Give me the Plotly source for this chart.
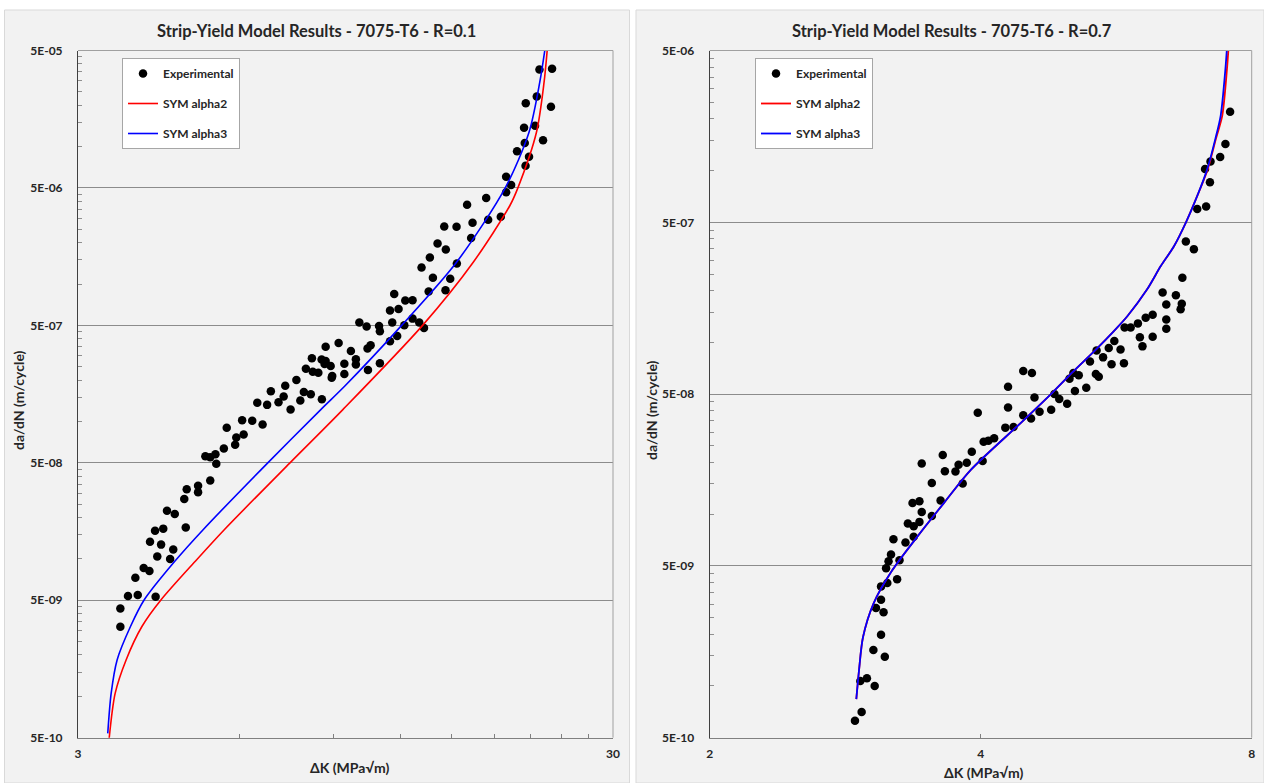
import math
import plotly.graph_objects as go

# ---------------- data: R = 0.1 ----------------
exp_r01_dk = [3.60, 3.60, 3.72, 3.88, 4.19, 3.84, 3.98, 4.08, 4.22, 4.46,
              4.52, 4.29, 4.09, 4.18, 4.33, 4.77, 4.40, 4.55, 4.74, 4.79,
              5.03, 5.03, 5.30, 5.19, 5.30, 5.42, 5.44, 5.62, 5.69, 5.90,
              5.93, 6.12, 6.08, 6.35, 6.64, 6.49, 6.77, 6.88, 7.11, 7.27,
              7.32, 7.49, 7.68, 7.81, 7.93, 8.17, 8.00, 8.21, 8.24, 8.44,
              8.56, 8.71, 8.67, 8.90, 8.96, 8.94, 8.57, 8.71, 9.21, 9.44,
              9.44, 9.71, 9.92, 9.92, 10.43, 10.57, 10.45, 10.07, 10.39, 10.96,
              11.00, 11.00, 11.49, 11.60, 11.49, 11.70, 11.92, 11.85, 12.22, 12.27,
              12.66, 12.66, 13.03, 13.30, 13.57, 13.16, 13.64, 13.82, 14.10, 14.51,
              14.61, 14.59, 14.89, 15.30, 15.32, 16.01, 16.29, 16.39, 17.38, 17.53,
              18.51, 18.94, 18.94, 19.35, 19.85, 20.52, 20.59, 20.90, 20.46, 21.45,
              22.20, 20.61, 21.61, 21.86, 23.08, 22.97]
exp_r01_dadn = [3.21e-9, 4.36e-9, 5.36e-9, 5.46e-9, 5.30e-9, 7.29e-9, 8.57e-9, 8.17e-9, 1.04e-8, 9.98e-9,
                1.17e-8, 1.27e-8, 1.33e-8, 1.60e-8, 1.66e-8, 1.69e-8, 2.24e-8, 2.12e-8, 2.73e-8, 3.21e-8,
                3.05e-8, 3.41e-8, 3.72e-8, 5.58e-8, 5.50e-8, 5.78e-8, 4.92e-8, 6.35e-8, 8.99e-8, 6.76e-8,
                7.64e-8, 8.04e-8, 1.02e-7, 1.01e-7, 9.51e-8, 1.37e-7, 1.32e-7, 1.66e-7, 1.38e-7, 1.52e-7,
                1.82e-7, 1.22e-7, 2.00e-7, 1.42e-7, 1.64e-7, 1.58e-7, 2.42e-7, 2.88e-7, 2.30e-7, 2.26e-7,
                2.82e-7, 2.75e-7, 2.62e-7, 2.53e-7, 2.14e-7, 2.08e-7, 1.45e-7, 3.50e-7, 3.72e-7, 2.63e-7,
                2.21e-7, 3.25e-7, 2.83e-7, 2.60e-7, 3.39e-7, 3.58e-7, 2.37e-7, 5.24e-7, 4.90e-7, 4.95e-7,
                4.53e-7, 2.65e-7, 3.83e-7, 5.24e-7, 6.41e-7, 8.47e-7, 6.58e-7, 4.19e-7, 5.01e-7, 7.59e-7,
                7.62e-7, 5.60e-7, 5.24e-7, 4.79e-7, 8.81e-7, 1.32e-6, 1.56e-6, 1.11e-6, 1.97e-6, 2.62e-6,
                1.78e-6, 9.02e-7, 1.09e-6, 2.61e-6, 1.41e-6, 3.77e-6, 2.16e-6, 2.79e-6, 4.22e-6, 2.93e-6,
                3.08e-6, 6.04e-6, 4.65e-6, 5.25e-6, 9.25e-6, 1.06e-5, 7.26e-6, 8.43e-6, 1.37e-5, 1.42e-5,
                1.11e-5, 2.07e-5, 2.31e-5, 3.64e-5, 3.68e-5, 1.95e-5]

sym2_r01_dk = [3.43, 3.52, 3.69, 3.95, 4.29, 5.00, 5.63, 7.47, 9.38, 13.22, 16.44, 19.24, 19.94, 21.58, 22.30, 22.62]
sym2_r01_dadn = [4.9e-10, 1.05e-9, 1.84e-9, 3.22e-9, 5.04e-9, 9.86e-9, 1.63e-8, 5.00e-8, 1.22e-7, 5.00e-7,
                 1.44e-6, 3.71e-6, 5.05e-6, 1.27e-5, 2.94e-5, 5.2e-5]

sym3_r01_dk = [3.41, 3.46, 3.55, 3.76, 3.99, 4.55, 5.14, 6.79, 8.53, 9.46, 12.08, 15.30, 18.89, 20.90, 21.89, 22.40]
sym3_r01_dadn = [5.38e-10, 1.05e-9, 1.84e-9, 3.22e-9, 5.04e-9, 9.6e-9, 1.63e-8, 5.00e-8, 1.22e-7, 1.81e-7,
                 5.00e-7, 1.44e-6, 5.05e-6, 1.27e-5, 2.94e-5, 5.2e-5]

# ---------------- data: R = 0.7 ----------------
exp_r07_dk = [2.90, 2.95, 2.94, 2.99, 3.05, 3.04, 3.13, 3.10, 3.12, 3.06,
              3.10, 3.10, 3.15, 3.23, 3.14, 3.16, 3.18, 3.25, 3.20, 3.30,
              3.37, 3.32, 3.37, 3.42, 3.44, 3.36, 3.42, 3.53, 3.61, 3.53,
              3.44, 3.63, 3.65, 3.75, 3.78, 3.82, 3.86, 3.91, 4.02, 4.03,
              4.08, 4.14, 3.97, 4.26, 4.29, 4.29, 4.35, 4.46, 4.56, 4.59,
              4.46, 4.55, 4.65, 4.79, 4.83, 4.89, 4.99, 5.02, 5.07, 5.14,
              5.09, 5.24, 5.29, 5.37, 5.41, 5.38, 5.47, 5.55, 5.59, 5.63,
              5.72, 5.77, 5.78, 5.87, 5.98, 6.01, 6.05, 6.10, 6.21, 6.21,
              6.37, 6.43, 6.43, 6.43, 6.59, 6.69, 6.67, 6.70, 6.76, 6.90,
              6.96, 7.12, 7.19, 7.10, 7.20, 7.38, 7.48, 7.57]
exp_r07_dadn = [6.27e-10, 7.05e-10, 1.07e-9, 1.11e-9, 1.00e-9, 1.62e-9, 1.48e-9, 1.99e-9, 2.69e-9, 2.84e-9,
                3.18e-9, 3.80e-9, 3.97e-9, 4.18e-9, 4.84e-9, 5.32e-9, 5.82e-9, 5.40e-9, 7.15e-9, 6.84e-9,
                7.38e-9, 8.83e-9, 8.51e-9, 9.02e-9, 1.03e-8, 1.16e-8, 1.19e-8, 9.77e-9, 1.20e-8, 1.52e-8,
                1.97e-8, 2.21e-8, 1.78e-8, 1.77e-8, 1.94e-8, 1.51e-8, 1.99e-8, 2.31e-8, 2.04e-8, 2.64e-8,
                2.68e-8, 2.77e-8, 3.89e-8, 3.19e-8, 4.18e-8, 5.52e-8, 3.22e-8, 6.81e-8, 6.64e-8, 4.78e-8,
                3.77e-8, 3.60e-8, 3.95e-8, 4.05e-8, 5.00e-8, 4.68e-8, 4.39e-8, 6.14e-8, 6.64e-8, 6.43e-8,
                5.22e-8, 5.45e-8, 7.74e-8, 6.55e-8, 6.31e-8, 8.97e-8, 8.18e-8, 9.27e-8, 7.45e-8, 1.02e-7,
                9.08e-8, 7.55e-8, 1.22e-7, 1.22e-7, 1.29e-7, 1.07e-7, 9.48e-8, 1.39e-7, 1.08e-7, 1.45e-7,
                1.95e-7, 1.66e-7, 1.36e-7, 1.20e-7, 1.88e-7, 1.68e-7, 1.56e-7, 2.38e-7, 3.87e-7, 3.49e-7,
                5.98e-7, 6.18e-7, 8.55e-7, 1.02e-6, 1.13e-6, 1.20e-6, 1.43e-6, 2.20e-6]

sym2_r07_dk = [2.91, 2.93, 2.96, 3.04, 3.19, 3.40, 3.64, 3.90, 4.43, 4.80, 5.07, 5.37, 5.62, 5.82,
               6.12, 6.34, 6.56, 6.76, 6.96, 7.15, 7.30, 7.42, 7.51, 7.54]
sym2_r07_dadn = [8.39e-10, 1.23e-9, 1.92e-9, 3.01e-9, 4.71e-9, 7.38e-9, 1.16e-8, 1.81e-8, 3.39e-8, 5.07e-8,
                 6.78e-8, 9.08e-8, 1.16e-7, 1.42e-7, 2.03e-7, 2.78e-7, 3.64e-7, 4.98e-7, 7.12e-7, 1.02e-6,
                 1.53e-6, 2.09e-6, 3.91e-6, 5.2e-6]

sym3_r07_dk = [2.91, 2.93, 2.96, 3.04, 3.19, 3.40, 3.64, 3.90, 4.43, 4.80, 5.07, 5.37, 5.62, 5.82,
               6.12, 6.34, 6.56, 6.76, 6.96, 7.14, 7.29, 7.39, 7.48, 7.51]
sym3_r07_dadn = [8.39e-10, 1.23e-9, 1.92e-9, 3.01e-9, 4.71e-9, 7.38e-9, 1.16e-8, 1.81e-8, 3.39e-8, 5.07e-8,
                 6.78e-8, 9.08e-8, 1.16e-7, 1.42e-7, 2.03e-7, 2.78e-7, 3.64e-7, 4.98e-7, 7.12e-7, 1.02e-6,
                 1.53e-6, 2.09e-6, 3.91e-6, 5.2e-6]

titles = ["Strip-Yield Model Results - 7075-T6 - R=0.1", "Strip-Yield Model Results - 7075-T6 - R=0.7"]
x_title = "ΔK (MPa√m)"
y_title = "da/dN (m/cycle)"
series_names = ["Experimental", "SYM alpha2", "SYM alpha3"]
y_ticks_r01 = [5e-10, 5e-9, 5e-8, 5e-7, 5e-6, 5e-5]
y_ticks_r07 = [5e-10, 5e-9, 5e-8, 5e-7, 5e-6]
x_ticks_r01 = [3, 30]
x_ticks_r07 = [2, 4, 8]

# ---------------- figure ----------------
W, H = 1264, 783
FONT = "Lato, 'Open Sans', sans-serif"
TXT = "#262626"

def fx(p):
    return p / W

def fy(p):
    return 1 - p / H

fig = go.Figure()

def add_panel(xa, ya, leg, dk, dadn, d2, v2, d3, v3, lw):
    fig.add_trace(go.Scatter(x=dk, y=dadn, mode="markers", name=series_names[0],
                             marker=dict(color="black", size=8.5, symbol="circle"),
                             xaxis=xa, yaxis=ya, legend=leg, legendgroup=leg + "a"))
    fig.add_trace(go.Scatter(x=d2, y=v2, mode="lines", name=series_names[1],
                             line=dict(color="#FF0000", width=lw, shape="spline", smoothing=0.8),
                             xaxis=xa, yaxis=ya, legend=leg, legendgroup=leg + "b"))
    fig.add_trace(go.Scatter(x=d3, y=v3, mode="lines", name=series_names[2],
                             line=dict(color="#0000FF", width=lw, shape="spline", smoothing=0.8),
                             xaxis=xa, yaxis=ya, legend=leg, legendgroup=leg + "c"))

add_panel("x", "y", "legend", exp_r01_dk, exp_r01_dadn, sym2_r01_dk, sym2_r01_dadn,
          sym3_r01_dk, sym3_r01_dadn, 1.6)
add_panel("x2", "y2", "legend2", exp_r07_dk, exp_r07_dadn, sym2_r07_dk, sym2_r07_dadn,
          sym3_r07_dk, sym3_r07_dadn, 1.8)

def fmt(v):
    return "%.0E" % v

tickfont = dict(family=FONT, size=12, color=TXT, weight="bold")

def minor_vals(majors):
    out = []
    for m in majors[:-1]:
        out += [m * k for k in range(2, 10)]
    return out

xaxis_common = dict(type="log", showgrid=False, zeroline=False, showline=True,
                    linecolor="#808080", linewidth=1, tickfont=tickfont,
                    ticklabelstandoff=5, automargin=False)
yaxis_common = dict(type="log", showgrid=True, gridcolor="#8C8C8C", gridwidth=1,
                    zeroline=False, showline=True, linecolor="#404040", linewidth=1,
                    ticks="", tickfont=tickfont, ticklabelstandoff=12, automargin=False)

fig.update_layout(
    width=W, height=H,
    margin=dict(l=0, r=0, t=0, b=0, pad=0, autoexpand=False),
    paper_bgcolor="white", plot_bgcolor="#F2F2F2",
    showlegend=True,
    xaxis=dict(xaxis_common, domain=[fx(78), fx(613)], anchor="y",
               range=[math.log10(3), math.log10(30)],
               tickmode="array", tickvals=x_ticks_r01, ticktext=[str(v) for v in x_ticks_r01],
               ticks="",
               minor=dict(tickvals=[3 * k for k in range(2, 10)], ticks="inside", ticklen=4,
                          tickcolor="#808080", showgrid=False)),
    yaxis=dict(yaxis_common, domain=[fy(737.7), fy(50.5)], anchor="x",
               range=[math.log10(5e-10), math.log10(5e-5)],
               tickmode="array", tickvals=y_ticks_r01, ticktext=[fmt(v) for v in y_ticks_r01],
               minor=dict(tickvals=minor_vals(y_ticks_r01), ticks="inside", ticklen=4,
                          tickcolor="#909090", showgrid=False)),
    xaxis2=dict(xaxis_common, domain=[fx(709.7), fx(1251.7)], anchor="y2",
                range=[math.log10(2), math.log10(8)],
                tickmode="array", tickvals=x_ticks_r07, ticktext=["2", "4", "8"],
                ticks="inside", ticklen=4, tickcolor="#808080"),
    yaxis2=dict(yaxis_common, domain=[fy(737.7), fy(50.5)], anchor="x2",
                range=[math.log10(5e-10), math.log10(5e-6)],
                tickmode="array", tickvals=y_ticks_r07, ticktext=[fmt(v) for v in y_ticks_r07],
                minor=dict(tickvals=minor_vals(y_ticks_r07), ticks="inside", ticklen=4,
                           tickcolor="#909090", showgrid=False)),
    legend=dict(x=fx(122), y=fy(58), xanchor="left", yanchor="top",
                bgcolor="white", bordercolor="#A6A6A6", borderwidth=1,
                font=dict(family=FONT, size=12, color=TXT, weight="bold"),
                tracegroupgap=11, traceorder="grouped", itemwidth=30),
    legend2=dict(x=fx(755), y=fy(58), xanchor="left", yanchor="top",
                 bgcolor="white", bordercolor="#A6A6A6", borderwidth=1,
                 font=dict(family=FONT, size=12, color=TXT, weight="bold"),
                 tracegroupgap=11, traceorder="grouped", itemwidth=30),
)

# panel backgrounds
shapes = [
    dict(type="rect", xref="paper", yref="paper", x0=fx(4.5), x1=fx(629.5), y0=0, y1=fy(10),
         fillcolor="#F2F2F2", line=dict(color="#D9D9D9", width=1), layer="below"),
    dict(type="rect", xref="paper", yref="paper", x0=fx(636), x1=1, y0=0, y1=fy(10),
         fillcolor="#F2F2F2", line=dict(color="#D9D9D9", width=1), layer="below"),
]
# top and right plot-area borders
for xr, yr in (("x", "y"), ("x2", "y2")):
    shapes.append(dict(type="line", xref=xr + " domain", yref=yr + " domain", x0=0, x1=1, y0=1, y1=1,
                       line=dict(color="#A0A0A0", width=1), layer="above"))
    shapes.append(dict(type="line", xref=xr + " domain", yref=yr + " domain", x0=1, x1=1, y0=0, y1=1,
                       line=dict(color="#A0A0A0", width=1), layer="above"))
fig.update_layout(shapes=shapes)

ann = []
title_font = dict(family=FONT, size=16.5, color=TXT, weight="bold")
axis_font = dict(family=FONT, size=14, color=TXT, weight="bold")
ann.append(dict(text=titles[0], x=fx(316), y=fy(31), xref="paper", yref="paper",
                xanchor="center", yanchor="middle", showarrow=False, font=title_font))
ann.append(dict(text=titles[1], x=fx(952), y=fy(31), xref="paper", yref="paper",
                xanchor="center", yanchor="middle", showarrow=False, font=title_font))
ann.append(dict(text=x_title, x=fx(350), y=fy(767), xref="paper", yref="paper",
                xanchor="center", yanchor="middle", showarrow=False, font=axis_font))
ann.append(dict(text=x_title, x=fx(984), y=fy(772), xref="paper", yref="paper",
                xanchor="center", yanchor="middle", showarrow=False, font=axis_font))
ann.append(dict(text=y_title, x=fx(18), y=fy(400), xref="paper", yref="paper", textangle=-90,
                xanchor="center", yanchor="middle", showarrow=False, font=axis_font))
ann.append(dict(text=y_title, x=fx(651), y=fy(410), xref="paper", yref="paper", textangle=-90,
                xanchor="center", yanchor="middle", showarrow=False, font=axis_font))
fig.update_layout(annotations=ann)

fig.write_html("out.html", config={"displayModeBar": False},
               post_script="document.body.style.margin='0';document.body.style.overflow='hidden';")
